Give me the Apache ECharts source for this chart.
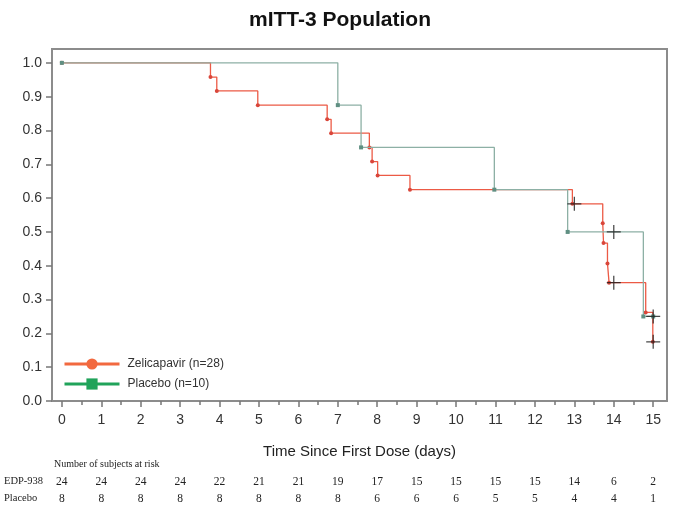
<!DOCTYPE html>
<html>
<head>
<meta charset="utf-8">
<title>mITT-3 Population</title>
<script src="https://cdn.jsdelivr.net/npm/echarts@6/dist/echarts.min.js"></script>
<style>
  html, body { margin: 0; padding: 0; background: #fff; }
  #chart { width: 680px; height: 509px; }
</style>
</head>
<body>
<div id="chart"></div>
<script>
// Kaplan-Meier step curves: event times (days) and survival estimate after each event
const zeliTimes = [0, 3.77, 3.93, 4.97, 6.73, 6.83, 7.80, 7.87, 8.01, 8.83, 12.95, 13.72, 13.74, 13.84, 13.88, 14.81, 14.99];
const zeliSurv  = [1.0, 0.958, 0.917, 0.875, 0.833, 0.792, 0.750, 0.708, 0.667, 0.625, 0.583, 0.526, 0.467, 0.407, 0.350, 0.262, 0.175];
const placeboTimes = [0, 7.00, 7.59, 10.97, 12.83, 14.75];
const placeboSurv  = [1.0, 0.875, 0.750, 0.625, 0.500, 0.250];

// Censored observations (+)
const zeliCensorTimes = [13.0, 14.0, 15.0];
const zeliCensorSurv  = [0.583, 0.350, 0.175];
const placeboCensorTimes = [14.0, 15.0];
const placeboCensorSurv  = [0.500, 0.250];

// Axis ticks
const xTicks = [0, 1, 2, 3, 4, 5, 6, 7, 8, 9, 10, 11, 12, 13, 14, 15];
const xMinorTicks = [0.5, 1.5, 2.5, 3.5, 4.5, 5.5, 6.5, 7.5, 8.5, 9.5, 10.5, 11.5, 12.5, 13.5, 14.5];
const yTicks = [0.0, 0.1, 0.2, 0.3, 0.4, 0.5, 0.6, 0.7, 0.8, 0.9, 1.0];

// Number of subjects at risk, one value per day tick
const riskRowLabels = ['EDP-938', 'Placebo'];
const edpAtRisk     = [24, 24, 24, 24, 22, 21, 21, 19, 17, 15, 15, 15, 15, 14, 6, 2];
const placeboAtRisk = [8, 8, 8, 8, 8, 8, 8, 8, 6, 6, 6, 5, 5, 4, 4, 1];

const seriesNames = ['Zelicapavir (n=28)', 'Placebo (n=10)'];

const pairs = (xs, ys) => xs.map((x, i) => [x, ys[i]]);

const crossPath = 'path://M-0.09,-1 L0.09,-1 L0.09,-0.09 L1,-0.09 L1,0.09 L0.09,0.09 L0.09,1 L-0.09,1 L-0.09,0.09 L-1,0.09 L-1,-0.09 L-0.09,-0.09 Z';

const frameColor = '#8c8c8c';
const tickColor = '#777';
const sansFont = 'Liberation Sans, Arial, sans-serif';
const serifFont = 'Liberation Serif, Times New Roman, serif';

const chart = echarts.init(document.getElementById('chart'), null, { renderer: 'canvas' });

chart.setOption({
  animation: false,
  backgroundColor: '#fff',
  title: {
    text: 'mITT-3 Population',
    left: 'center',
    top: 5,
    textStyle: { fontFamily: sansFont, fontSize: 21, fontWeight: 'bold', color: '#111' }
  },
  grid: {
    left: 52, top: 49, right: 13, bottom: 108,
    show: true, borderColor: frameColor, borderWidth: 2, backgroundColor: '#fff'
  },
  legend: {
    orient: 'vertical',
    left: 63, top: 358, padding: 0,
    itemWidth: 55, itemHeight: 14, itemGap: 8,
    textStyle: { fontFamily: sansFont, fontSize: 12, color: '#333', padding: [0, 0, 0, 3] },
    data: [
      { name: seriesNames[0],
        itemStyle: { color: '#f2693f' }, lineStyle: { color: '#f2693f', width: 3 } },
      { name: seriesNames[1],
        itemStyle: { color: '#20a35a' }, lineStyle: { color: '#20a35a', width: 3 } }
    ]
  },
  xAxis: [
    {
      type: 'value', min: -0.25, max: 15.35,
      name: 'Time Since First Dose (days)',
      nameLocation: 'middle', nameGap: 43,
      nameTextStyle: { fontFamily: sansFont, fontSize: 15, color: '#222' },
      axisLine: { show: true, onZero: false, lineStyle: { color: frameColor, width: 2 } },
      axisTick: { show: true, customValues: xTicks, length: 6, lineStyle: { color: tickColor, width: 1.5 } },
      axisLabel: { customValues: xTicks, margin: 12, fontFamily: sansFont, fontSize: 14, color: '#333' },
      splitLine: { show: false }
    },
    {
      type: 'value', min: -0.25, max: 15.35, position: 'bottom',
      axisLine: { show: false },
      axisTick: { show: true, customValues: xMinorTicks, length: 4, lineStyle: { color: tickColor, width: 1.5 } },
      axisLabel: { show: false },
      splitLine: { show: false }
    }
  ],
  yAxis: {
    type: 'value', min: 0, max: 1.041,
    axisLine: { show: true, onZero: false, lineStyle: { color: frameColor, width: 2 } },
    axisTick: { show: true, customValues: yTicks, length: 6, lineStyle: { color: tickColor, width: 1.5 } },
    axisLabel: {
      customValues: yTicks, margin: 10,
      fontFamily: sansFont, fontSize: 14, color: '#333',
      formatter: v => v.toFixed(1)
    },
    splitLine: { show: false }
  },
  series: [
    {
      name: seriesNames[0], type: 'line', step: 'end',
      data: pairs(zeliTimes, zeliSurv),
      symbol: 'circle', symbolSize: 4, showAllSymbol: true,
      lineStyle: { color: '#ec5a45', width: 1.3 },
      itemStyle: { color: '#d9463a' },
      z: 2
    },
    {
      name: seriesNames[1], type: 'line', step: 'end',
      data: pairs(placeboTimes.concat([15.0]), placeboSurv.concat([placeboSurv[placeboSurv.length - 1]])),
      symbol: 'rect', symbolSize: 4, showAllSymbol: true,
      lineStyle: { color: '#8db0a5', width: 1.3 },
      itemStyle: { color: '#5f8f82' },
      z: 3
    },
    {
      name: 'zeli-censored', type: 'scatter',
      data: pairs(zeliCensorTimes, zeliCensorSurv),
      symbol: crossPath, symbolSize: 14,
      itemStyle: { color: '#1a1a1a' },
      z: 5
    },
    {
      name: 'placebo-censored', type: 'scatter',
      data: pairs(placeboCensorTimes, placeboCensorSurv),
      symbol: crossPath, symbolSize: 14,
      itemStyle: { color: '#1a1a1a' },
      z: 5
    }
  ]
});

// Number-at-risk table under the axis, columns aligned to the day ticks
const riskRows = [edpAtRisk, placeboAtRisk];
const rowY = [482, 499];
const graphics = [{
  type: 'text', left: 54, top: 459,
  style: { text: 'Number of subjects at risk', fontFamily: serifFont, fontSize: 10, fill: '#222' }
}];
riskRows.forEach((row, r) => {
  graphics.push({
    type: 'text', left: 4, top: rowY[r] - 6,
    style: { text: riskRowLabels[r], fontFamily: serifFont, fontSize: 10.5, fill: '#222' }
  });
  row.forEach((n, i) => {
    const px = chart.convertToPixel({ xAxisIndex: 0 }, xTicks[i]);
    graphics.push({
      type: 'text', x: px, y: rowY[r],
      style: { text: String(n), fontFamily: serifFont, fontSize: 11.5, fill: '#222',
               align: 'center', verticalAlign: 'middle' }
    });
  });
});
chart.setOption({ graphic: graphics });
</script>
</body>
</html>
